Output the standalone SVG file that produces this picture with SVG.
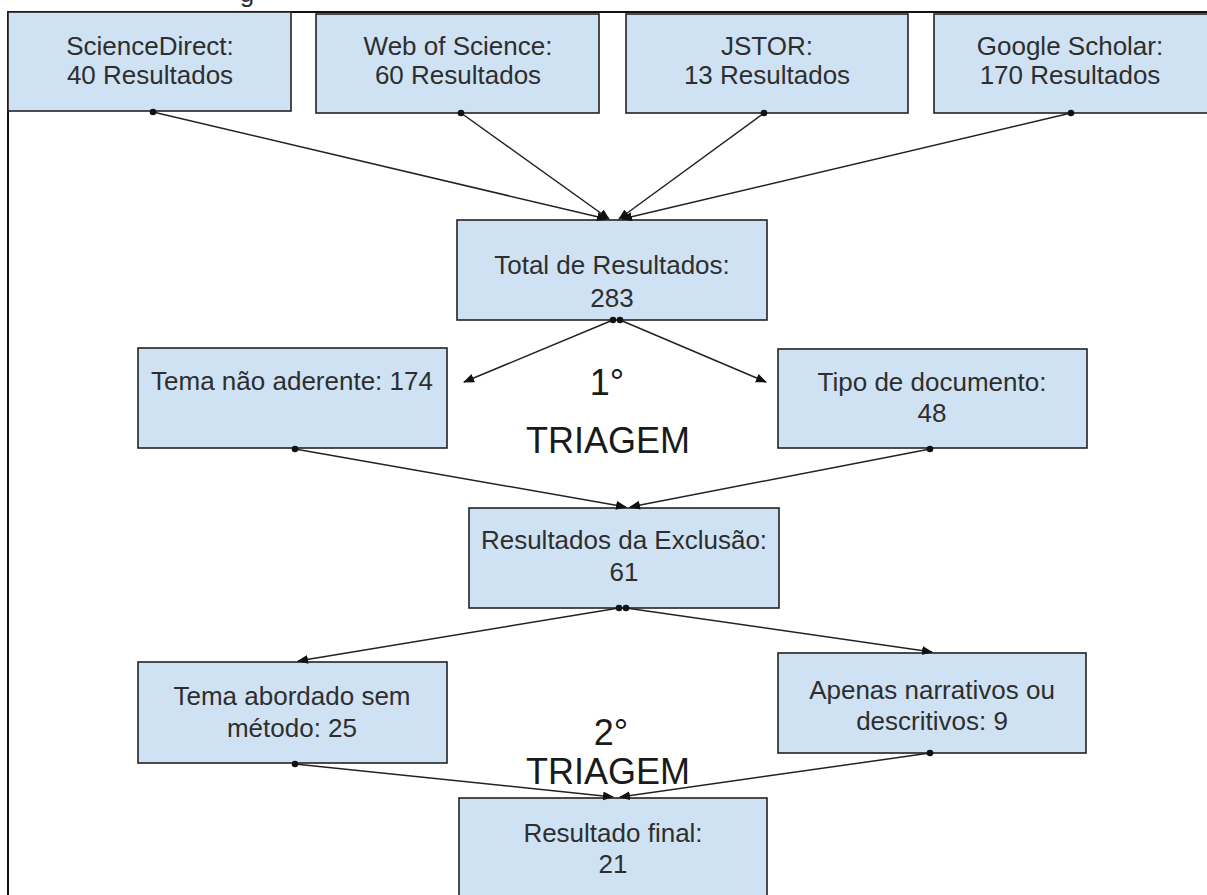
<svg xmlns="http://www.w3.org/2000/svg" width="1207" height="895" viewBox="0 0 1207 895">
<style>
.box{fill:#cfe2f3;stroke:#222;stroke-width:1.6}
.t{font-family:"Liberation Sans",Arial,sans-serif;font-size:26px;fill:#2e2e2e;text-anchor:middle}
.tri{font-family:"Liberation Sans",Arial,sans-serif;font-size:36px;fill:#1a1a1a;text-anchor:middle}
.c{fill:none;stroke:#222;stroke-width:1.5;marker-start:url(#dot);marker-end:url(#arr)}
</style>
<defs>
<marker id="arr" markerUnits="userSpaceOnUse" markerWidth="12" markerHeight="10" refX="10" refY="4.5" orient="auto"><path d="M0,0 L11,4.5 L0,9 z" fill="#111"/></marker>
<marker id="dot" markerUnits="userSpaceOnUse" markerWidth="8" markerHeight="8" refX="4" refY="4"><circle cx="4" cy="4" r="3.3" fill="#111"/></marker>
</defs>
<rect width="1207" height="895" fill="#fff"/>
<g id="frame">
<text class="t" x="247" y="2">g</text>
<path d="M8,895 L8,12 L1207,12" fill="none" stroke="#111" stroke-width="2"/>
</g>
<g id="n-sciencedirect"><rect class="box" x="8" y="12" width="283" height="99"/><text class="t" x="150" y="55">ScienceDirect:</text><text class="t" x="150" y="84">40 Resultados</text></g>
<g id="n-wos"><rect class="box" x="316" y="14" width="283" height="99"/><text class="t" x="458" y="55">Web of Science:</text><text class="t" x="458" y="84">60 Resultados</text></g>
<g id="n-jstor"><rect class="box" x="626" y="14" width="282" height="99"/><text class="t" x="767" y="55">JSTOR:</text><text class="t" x="767" y="84">13 Resultados</text></g>
<g id="n-scholar"><rect class="box" x="934" y="14" width="280" height="99"/><text class="t" x="1070" y="55">Google Scholar:</text><text class="t" x="1070" y="84">170 Resultados</text></g>
<g id="n-total"><rect class="box" x="457" y="220" width="310" height="100"/><text class="t" x="612" y="274">Total de Resultados:</text><text class="t" x="612" y="307">283</text></g>
<g id="n-tema"><rect class="box" x="138" y="348" width="309" height="100"/><text class="t" x="292" y="390">Tema não aderente: 174</text></g>
<g id="n-tipo"><rect class="box" x="778" y="349" width="309" height="99"/><text class="t" x="932" y="391">Tipo de documento:</text><text class="t" x="932" y="422">48</text></g>
<g id="n-exclusao"><rect class="box" x="469" y="508" width="310" height="100"/><text class="t" x="624" y="549">Resultados da Exclusão:</text><text class="t" x="624" y="581">61</text></g>
<g id="n-abordado"><rect class="box" x="138" y="662" width="309" height="101"/><text class="t" x="292" y="705">Tema abordado sem</text><text class="t" x="292" y="737">método: 25</text></g>
<g id="n-apenas"><rect class="box" x="778" y="653" width="308" height="100"/><text class="t" x="932" y="699">Apenas narrativos ou</text><text class="t" x="932" y="730">descritivos: 9</text></g>
<g id="n-final"><rect class="box" x="459" y="798" width="308" height="110"/><text class="t" x="613" y="842">Resultado final:</text><text class="t" x="613" y="873">21</text></g>
<g id="labels">
<text class="tri" x="607" y="395">1°</text><text class="tri" x="608" y="453">TRIAGEM</text>
<text class="tri" x="611" y="745">2°</text><text class="tri" x="608" y="784">TRIAGEM</text>
</g>
<g id="connectors">
<path class="c" d="M153,112 L607,219"/>
<path class="c" d="M461,113 L609,219"/>
<path class="c" d="M764,113 L619,219"/>
<path class="c" d="M1071,113 L622,219"/>
<path class="c" d="M613,320 L464,382"/>
<path class="c" d="M620,320 L766,382"/>
<path class="c" d="M295,449 L626,507"/>
<path class="c" d="M930,449 L630,507"/>
<path class="c" d="M619,608 L298,661"/>
<path class="c" d="M626,608 L932,652"/>
<path class="c" d="M295,764 L613,797"/>
<path class="c" d="M930,753 L620,797"/>
</g>
</svg>
